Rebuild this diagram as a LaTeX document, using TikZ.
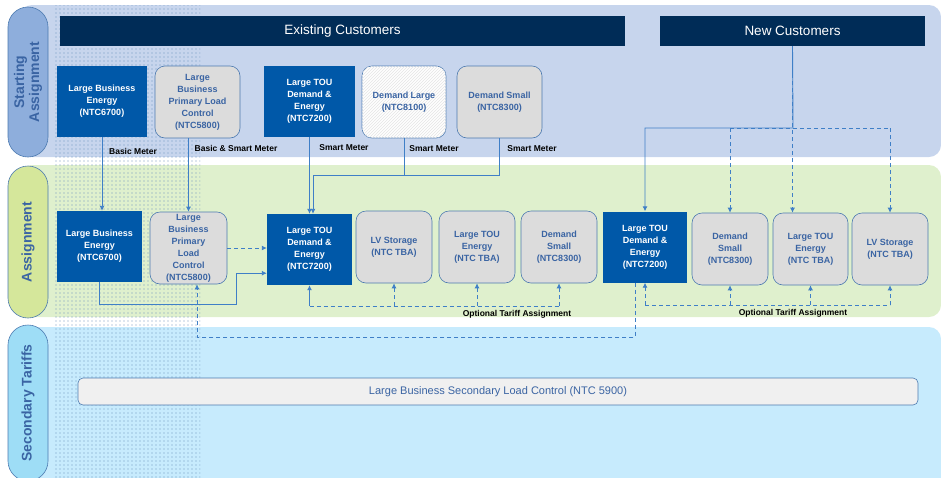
\documentclass[tikz,border=0pt]{standalone}
\usepackage{fontspec}
\setmainfont{Liberation Sans}
\usetikzlibrary{arrows.meta}
\usetikzlibrary{patterns}

\definecolor{bandtop}{HTML}{C7D5ED}
\definecolor{bandmid}{HTML}{DFF0CD}
\definecolor{bandlow}{HTML}{C7EBFD}
\definecolor{navy}{HTML}{002C57}
\definecolor{tariffblue}{HTML}{0058A8}
\definecolor{tariffgray}{HTML}{DCDCDC}
\definecolor{edgeblue}{HTML}{4C7AB0}
\definecolor{textblue}{HTML}{3A64A3}
\definecolor{linkblue}{HTML}{3F7FC7}
\definecolor{pilltop}{HTML}{8EAEDC}
\definecolor{pillmid}{HTML}{D5E79B}
\definecolor{pilllow}{HTML}{9EDDF6}
\definecolor{secgray}{HTML}{F0F0F0}

\newcommand{\tarifffont}{\bfseries\fontsize{9}{12}\selectfont}

% coarse dots for the shaded column
\pgfdeclarepatternformonly{coarsedots}{\pgfqpoint{-1pt}{-1pt}}{\pgfqpoint{1pt}{1pt}}{\pgfqpoint{4pt}{4pt}}{
    \pgfpathcircle{\pgfqpoint{0pt}{0pt}}{0.65pt}
    \pgfusepath{fill}
}

\begin{document}
\begin{tikzpicture}[x=1pt,y=-1pt,
    solidtariff/.style={fill=tariffblue, text=white, font=\tarifffont, align=center, inner sep=1pt, minimum height=71pt},
    opttariff/.style={fill=tariffgray, draw=edgeblue, semithick, rounded corners=10pt, text=textblue, font=\tarifffont, align=center, inner sep=1pt, minimum height=72pt},
    pill/.style={draw=edgeblue, semithick, rounded corners=20pt, rotate=90, minimum height=40pt, font=\bfseries\fontsize{14}{15}\selectfont, align=center},
    header/.style={fill=navy, text=white, font=\fontsize{13.5}{16}\selectfont, minimum height=30pt, inner sep=0pt},
    meter/.style={font=\bfseries\fontsize{8.5}{10}\selectfont, inner sep=0pt},
    secbox/.style={fill=secgray, draw=edgeblue, semithick, rounded corners=5pt, minimum width=840pt, minimum height=27pt, text=textblue, font=\fontsize{11}{13}\selectfont},
    link/.style={linkblue, line width=0.9pt},
    arrowlink/.style={link, -{Latex[length=5pt,width=5pt]}},
    dashlink/.style={link, dash pattern=on 4pt off 3pt},
    dasharrow/.style={dashlink, -{Latex[length=5pt,width=5pt]}}]

    % fix the size of the picture
    \useasboundingbox (0,0) rectangle (941,477);
    \clip (0,0) rectangle (941,477);

    % draw the three bands
    \fill[bandtop, rounded corners=12pt] (20,5) rectangle (941,157);
    \fill[bandmid, rounded corners=12pt] (20,165) rectangle (941,317);
    \fill[bandlow, rounded corners=12pt] (20,327) rectangle (941,495);

    % dotted column
    \fill[pattern=coarsedots, pattern color=edgeblue!80] (55,5) rectangle (200,477);

    % band labels
    \node[pill, fill=pilltop, text=textblue, minimum width=150pt] (pillstart) at (28,82) {Starting\\Assignment};
    \node[pill, fill=pillmid, text=textblue, minimum width=152pt] (pillasgn) at (28,242) {Assignment};
    \node[pill, fill=pilllow, text=textblue, minimum width=156pt] (pillsec) at (28,403) {Secondary Tariffs};

    % headers
    \node[header, minimum width=565pt] (existing) at (342.5,31) {Existing Customers};
    \node[header, minimum width=265pt] (newcust) at (792.5,31) {New Customers};

    % starting tariffs
    \node[solidtariff, minimum width=90pt] (start6700) at (102,101.5) {Large Business\\Energy\\(NTC6700)};
    \node[opttariff, minimum width=85pt] (start5800) at (197.5,102) {Large\\Business\\Primary Load\\Control\\(NTC5800)};
    \node[solidtariff, minimum width=91pt] (start7200) at (309.5,101.5) {Large TOU\\Demand \&\\Energy\\(NTC7200)};
    \node[opttariff, minimum width=84pt, fill=white, postaction={pattern=north east lines, pattern color=gray!20}] (start8100) at (404,102) {Demand Large\\(NTC8100)};
    \node[opttariff, minimum width=85pt] (start8300) at (499.5,102) {Demand Small\\(NTC8300)};

    % assigned tariffs
    \node[solidtariff, minimum width=85pt] (asgn6700) at (99.5,246.5) {Large Business\\Energy\\(NTC6700)};
    \node[opttariff, minimum width=77pt] (asgn5800) at (188.5,248) {Large\\Business\\Primary\\Load\\Control\\(NTC5800)};
    \node[solidtariff, minimum width=85pt] (asgn7200) at (309.5,249.5) {Large TOU\\Demand \&\\Energy\\(NTC7200)};
    \node[opttariff, minimum width=76pt] (asgnLVS) at (394,247) {LV Storage\\(NTC TBA)};
    \node[opttariff, minimum width=76pt] (asgnTOU) at (477,247) {Large TOU\\Energy\\(NTC TBA)};
    \node[opttariff, minimum width=76pt] (asgnDS) at (559,247) {Demand\\Small\\(NTC8300)};
    \node[solidtariff, minimum width=84pt] (new7200) at (645,247) {Large TOU\\Demand \&\\Energy\\(NTC7200)};
    \node[opttariff, minimum width=76pt] (newDS) at (730,249) {Demand\\Small\\(NTC8300)};
    \node[opttariff, minimum width=75pt] (newTOU) at (810.5,249) {Large TOU\\Energy\\(NTC TBA)};
    \node[opttariff, minimum width=76pt] (newLVS) at (890,249) {LV Storage\\(NTC TBA)};

    % secondary tariff
    \node[secbox] (sec5900) at (498,391.5) {Large Business Secondary Load Control (NTC 5900)};

    % meter links
    \draw[arrowlink] (start6700.south) -- (start6700.south |- asgn6700.north);
    \draw[arrowlink] (asgn5800.north |- start5800.south) -- (asgn5800.north);
    \draw[arrowlink] (start7200.south) -- (start7200.south |- asgn7200.north);
    \coordinate (meetA) at (313,175);
    \draw[link] (start8100.south) |- (meetA);
    \draw[arrowlink] (start8300.south) |- (meetA) -- (meetA |- asgn7200.north);

    \node[meter] (mBasic) at (133,151) {Basic Meter};
    \node[meter] (mBoth) at (236,148) {Basic \& Smart Meter};
    \node[meter] (mSmartA) at (344,148) {Smart Meter};
    \node[meter] (mSmartB) at (434,149) {Smart Meter};
    \node[meter] (mSmartC) at (532,149) {Smart Meter};

    % new customer links
    \coordinate (meetN) at (793,128);
    \draw[dasharrow] (newcust.south) -- (newcust.south |- newTOU.north);
    \draw[arrowlink] (newcust.south) -- (meetN) -| (new7200.north);
    \draw[dashlink] (newDS.north |- meetN) -- (newLVS.north |- meetN);
    \draw[dasharrow] (newDS.north |- meetN) -- (newDS.north);
    \draw[dasharrow] (newLVS.north |- meetN) -- (newLVS.north);

    % links inside the assignment band
    \draw[dasharrow] (asgn5800.east) -- (asgn5800.east -| asgn7200.west);
    \coordinate (bendA) at (236,304);
    \draw[arrowlink] (asgn6700.south) |- (bendA) |- ([yshift=12pt]asgn7200.south west);

    % optional tariffs, existing customers
    \coordinate (busA) at (0,306);
    \draw[dashlink] (asgn7200.south |- busA) -- (asgnDS.south |- busA);
    \draw[arrowlink] (asgn7200.south |- busA) -- (asgn7200.south);
    \foreach \n in {asgnLVS,asgnTOU,asgnDS}
        \draw[dasharrow] (\n.south |- busA) -- (\n.south);
    \node[meter] (optA) at (517,314) {Optional Tariff Assignment};

    % optional tariffs, new customers
    \coordinate (busN) at (0,305);
    \draw[dashlink] (new7200.south |- busN) -- (newLVS.south |- busN);
    \foreach \n in {new7200,newDS,newTOU,newLVS}
        \draw[dasharrow] (\n.south |- busN) -- (\n.south);
    \node[meter] (optN) at (793,313) {Optional Tariff Assignment};

    % back to primary load control
    \coordinate (busS) at (400,337);
    \draw[dasharrow] ([xshift=-10pt]new7200.south) |- (busS) -| ([xshift=8.5pt]asgn5800.south);

\end{tikzpicture}
\end{document}
